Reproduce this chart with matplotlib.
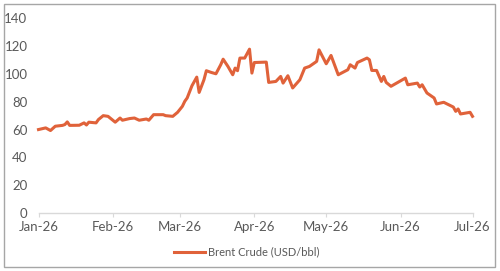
import matplotlib
matplotlib.use("Agg")
import matplotlib.pyplot as plt
import matplotlib.dates as mdates
from matplotlib.patches import Rectangle
import pandas as pd

# Brent crude daily-ish closes
dates = [
    "2026-01-01", "2026-01-04", "2026-01-06", "2026-01-08", "2026-01-11", "2026-01-12",
    "2026-01-13", "2026-01-14", "2026-01-18", "2026-01-20", "2026-01-21", "2026-01-22",
    "2026-01-25", "2026-01-26", "2026-01-28", "2026-01-30", "2026-02-02", "2026-02-04",
    "2026-02-05", "2026-02-08", "2026-02-10", "2026-02-12", "2026-02-15", "2026-02-16",
    "2026-02-18", "2026-02-22", "2026-02-23", "2026-02-26", "2026-02-28", "2026-03-02",
    "2026-03-03", "2026-03-04", "2026-03-06", "2026-03-08", "2026-03-09", "2026-03-11",
    "2026-03-12", "2026-03-14", "2026-03-16", "2026-03-18", "2026-03-19", "2026-03-21",
    "2026-03-23", "2026-03-24", "2026-03-25", "2026-03-26", "2026-03-28", "2026-03-30",
    "2026-03-31", "2026-04-01", "2026-04-06", "2026-04-07", "2026-04-10", "2026-04-12",
    "2026-04-13", "2026-04-15", "2026-04-17", "2026-04-20", "2026-04-22", "2026-04-24",
    "2026-04-27", "2026-04-28", "2026-05-01", "2026-05-03", "2026-05-06", "2026-05-10",
    "2026-05-11", "2026-05-13", "2026-05-14", "2026-05-18", "2026-05-19", "2026-05-20",
    "2026-05-22", "2026-05-24", "2026-05-25", "2026-05-26", "2026-05-28", "2026-06-03",
    "2026-06-04", "2026-06-08", "2026-06-09", "2026-06-10", "2026-06-12", "2026-06-15",
    "2026-06-16", "2026-06-19", "2026-06-23", "2026-06-24", "2026-06-25", "2026-06-26",
    "2026-06-30", "2026-07-01",
]
brent = [
    60.0, 61.2, 59.3, 62.4, 63.0, 63.6,
    65.5, 63.0, 63.1, 64.8, 63.3, 65.3,
    64.8, 67.2, 70.0, 69.5, 65.3, 68.3,
    66.7, 67.9, 68.3, 66.7, 67.6, 66.7,
    70.7, 70.7, 70.0, 69.5, 72.4, 76.7,
    80.3, 82.7, 91.5, 97.7, 86.7, 95.8,
    102.3, 101.1, 100.1, 106.6, 110.6, 105.4,
    99.4, 104.2, 102.3, 111.4, 111.4, 117.8,
    100.6, 108.2, 108.5, 93.9, 94.6, 98.2,
    93.4, 98.7, 89.9, 95.8, 104.2, 105.4,
    109.0, 117.3, 107.3, 113.3, 99.4, 103.0,
    106.6, 104.2, 108.2, 111.4, 110.2, 102.5,
    102.5, 94.6, 98.2, 93.9, 91.1, 97.0,
    92.2, 93.4, 90.6, 92.2, 86.3, 82.7,
    78.4, 79.6, 76.2, 73.1, 74.8, 71.2,
    72.4, 69.5,
]
series_name = "Brent Crude (USD/bbl)"
y_ticks = [0, 20, 40, 60, 80, 100, 120, 140]

x = pd.to_datetime(dates)
text_color = "#595959"
line_color = "#E0623A"

plt.rcParams["font.family"] = ["Lato", "DejaVu Sans"]

fig = plt.figure(figsize=(5.0, 2.71), dpi=100)
ax = fig.add_axes([0.077, 0.214, 0.868, 0.7185])

ax.plot(x, brent, color=line_color, linewidth=2.2, solid_joinstyle="round",
        label=series_name, clip_on=False)

ax.set_xlim(pd.Timestamp("2026-01-01"), pd.Timestamp("2026-07-01"))
ax.set_ylim(0, 140)
ax.set_yticks(y_ticks)
ax.xaxis.set_major_locator(mdates.MonthLocator())
ax.xaxis.set_major_formatter(mdates.DateFormatter("%b-%y"))

for side in ["top", "right", "left"]:
    ax.spines[side].set_visible(False)
ax.spines["bottom"].set_color("#D9D9D9")
ax.spines["bottom"].set_linewidth(1.0)

ax.tick_params(axis="y", length=0, pad=8, labelsize=9.5, labelcolor=text_color)
ax.tick_params(axis="x", length=3, width=0.8, color="#D9D9D9", pad=3,
               labelsize=9.5, labelcolor=text_color)

fig.legend(loc="center", bbox_to_anchor=(0.493, 0.07), frameon=False,
           fontsize=8, labelcolor=text_color, handlelength=2.8, handletextpad=0.3)

# thin gray border round the whole chart
fig.patches.append(Rectangle((4 / 500, 4 / 271), 491 / 500, 263 / 271,
                             transform=fig.transFigure, fill=False,
                             edgecolor="#A6A6A6", linewidth=1.0))

fig.savefig("out.png", dpi=100)
